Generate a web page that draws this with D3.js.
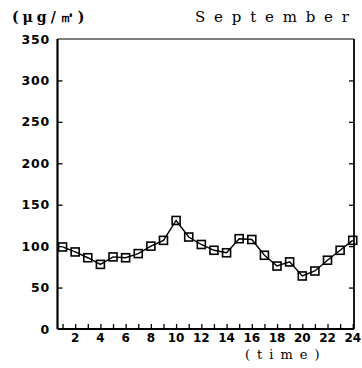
<!DOCTYPE html>
<html><head><meta charset="utf-8">
<script src="https://cdn.jsdelivr.net/npm/d3@7/dist/d3.min.js"></script>
<style>
body{margin:0;background:#fff;}
svg{display:block;}
</style></head>
<body>
<script>
const hours = d3.range(1, 25);
const values = [99, 93, 86, 78, 87, 86, 91, 100, 107, 131, 111, 102, 95, 92, 109, 108, 89, 76, 81, 64, 70, 83, 95, 107];
const yTicks = [0, 50, 100, 150, 200, 250, 300, 350];
const xTickLabels = [2, 4, 6, 8, 10, 12, 14, 16, 18, 20, 22, 24];
const unitLabel = "(μg/㎥)";
const monthLabel = "September";
const xTitle = "(time)";

const W = 362, H = 368;
const L = 57.5, R = 354, T = 39, B = 329;

const svg = d3.select("body").append("svg").attr("width", W).attr("height", H);

const x = d3.scaleLinear().domain([0.6, 24.1]).range([L, R]);
const y = d3.scaleLinear().domain([0, 350]).range([B, T]);

const numFont = "'DejaVu Sans', sans-serif";

// frame
svg.append("line").attr("x1", L).attr("x2", R).attr("y1", T).attr("y2", T)
  .attr("stroke", "#000").attr("stroke-width", 1.2);
svg.append("line").attr("x1", L).attr("x2", R).attr("y1", B).attr("y2", B)
  .attr("stroke", "#000").attr("stroke-width", 1.8);
svg.append("line").attr("x1", L).attr("x2", L).attr("y1", T).attr("y2", B)
  .attr("stroke", "#000").attr("stroke-width", 2.2);
svg.append("line").attr("x1", R).attr("x2", R).attr("y1", T).attr("y2", B)
  .attr("stroke", "#000").attr("stroke-width", 1.8);

// y axis ticks (inward on both sides)
const yInner = yTicks.filter(v => v > 0 && v < 350);
svg.append("g").attr("transform", `translate(${L},0)`)
  .call(d3.axisRight(y).tickValues(yInner).tickSize(5).tickFormat(""))
  .call(g => g.select(".domain").remove())
  .call(g => g.selectAll("line").attr("stroke-width", 1.3));
svg.append("g").attr("transform", `translate(${R},0)`)
  .call(d3.axisLeft(y).tickValues(yInner).tickSize(5).tickFormat(""))
  .call(g => g.select(".domain").remove())
  .call(g => g.selectAll("line").attr("stroke-width", 1.3));

// y labels
svg.append("g").selectAll("text").data(yTicks).join("text")
  .attr("x", 50).attr("y", d => y(d)).attr("dy", "0.36em")
  .attr("text-anchor", "end")
  .attr("font-family", numFont).attr("font-weight", "bold").attr("font-size", 12.5)
  .attr("letter-spacing", 0.8)
  .text(d => d);

// x axis ticks (inward, every hour)
svg.append("g").attr("transform", `translate(0,${B})`)
  .call(d3.axisTop(x).tickValues(hours).tickSize(5).tickFormat(""))
  .call(g => g.select(".domain").remove())
  .call(g => g.selectAll("line").attr("stroke-width", 1.3));

// x labels
svg.append("g").selectAll("text").data(xTickLabels).join("text")
  .attr("x", d => x(d)).attr("y", 342)
  .attr("text-anchor", "middle")
  .attr("font-family", numFont).attr("font-weight", "bold").attr("font-size", 12)
  .text(d => d);

// titles
svg.append("text").attr("x", 12).attr("y", 22)
  .attr("font-family", "'DejaVu Serif', serif").attr("font-weight", "bold").attr("font-size", 14)
  .attr("letter-spacing", 4)
  .text(unitLabel);
svg.append("text").attr("x", 195).attr("y", 22)
  .attr("font-family", "'DejaVu Serif', serif").attr("font-size", 15)
  .attr("letter-spacing", 8.8)
  .text(monthLabel);
svg.append("text").attr("x", 245).attr("y", 359)
  .attr("font-family", "'DejaVu Serif', serif").attr("font-size", 13)
  .attr("letter-spacing", 7)
  .text(xTitle);

// line
const data = hours.map((h, i) => ({h, v: values[i]}));
svg.append("path").datum(data)
  .attr("fill", "none").attr("stroke", "#000").attr("stroke-width", 1.4)
  .attr("d", d3.line().x(d => x(d.h)).y(d => y(d.v)));

// markers
const s = 8;
svg.append("g").selectAll("rect").data(data).join("rect")
  .attr("x", d => x(d.h) - s / 2).attr("y", d => y(d.v) - s / 2)
  .attr("width", s).attr("height", s)
  .attr("fill", "none").attr("stroke", "#000").attr("stroke-width", 1.6);
</script>
</body></html>
